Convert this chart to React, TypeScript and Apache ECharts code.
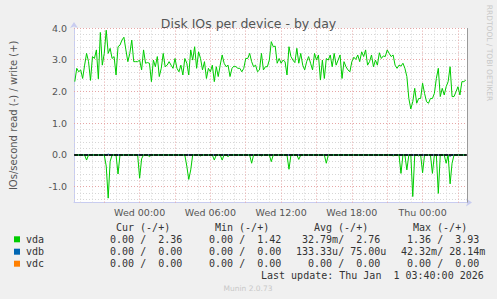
import React, { useEffect, useRef } from "react";
import * as echarts from "echarts";

// ---------- texts ----------
const TITLE = "Disk IOs per device - by day";
const Y_NAME = "IOs/second read (-) / write (+)";
const SIDE_TEXT = "RRDTOOL / TOBI OETIKER";
const LAST_UPDATE = "Last update: Thu Jan  1 03:40:00 2026";
const VERSION = "Munin 2.0.73";

// ---------- axes (x in minutes relative to Wed 00:00) ----------
const X_MIN = -334;
const X_MAX = 1666;
const xTickValues = [0, 360, 720, 1080, 1440];
const xTickLabels = ["Wed 00:00", "Wed 06:00", "Wed 12:00", "Wed 18:00", "Thu 00:00"];
const Y_MIN = -1.5;
const Y_MAX = 4;

// ---------- samples: every 10 minutes starting at Tue 18:30 ----------
const SAMPLE_START = -330;
const SAMPLE_STEP = 10;

const devices = ["vda", "vdb", "vdc"];
const deviceColors = ["#00cc00", "#0066b3", "#ff8000"];

// vda write (+), IOs/s
const vdaWrite = [
  2.31, 2.73, 2.62, 2.68, 2.41, 2.83, 3.2, 2.94, 2.35, 3.1,
  3.04, 3.31, 2.4, 3.86, 2.83, 3.2, 3.93, 3.2, 3.36, 3.04,
  3.1, 2.52, 3.41, 3.46, 3.62, 3.71, 3.31, 2.94, 3.2, 3.62,
  2.94, 2.94, 2.94, 2.99, 2.68, 3.31, 2.89, 2.91, 2.89, 2.31,
  2.99, 2.78, 3.1, 2.47, 2.73, 3.2, 2.78, 2.83, 2.94, 2.83,
  2.73, 3.04, 2.73, 2.62, 2.83, 2.52, 3.04, 2.89, 2.52, 3.31,
  2.99, 3.41, 2.73, 3.25, 3.04, 2.68, 2.94, 2.41, 2.73, 2.62,
  2.83, 2.31, 2.78, 2.47, 2.83, 3.15, 2.89, 2.78, 2.83, 2.47,
  2.73, 2.8, 2.78, 2.73, 2.73, 2.62, 2.73, 3.04, 3.04, 3.2,
  2.94, 2.78, 2.83, 2.62, 2.68, 3.2, 2.68, 2.78, 2.78, 2.99,
  3.57, 3.41, 3.43, 2.89, 3.04, 2.89, 2.99, 2.94, 2.52, 3.41,
  3.1, 2.99, 2.91, 3.36, 2.89, 3.2, 2.83, 2.68, 2.94, 3.1,
  2.89, 2.68, 3.2, 2.99, 3.15, 2.36, 2.99, 2.41, 3.04, 2.99,
  3.15, 2.78, 3.2, 2.83, 2.99, 3.15, 2.41, 2.94, 2.78, 2.68,
  2.62, 2.94, 3.08, 3.01, 3.15, 2.94, 3.25, 3.1, 3.31, 2.83,
  2.94, 3.15, 2.78, 2.99, 2.83, 3.22, 3.04, 3.12, 3.1, 3.31,
  3.2, 3.1, 3.15, 2.83, 2.73, 2.83, 2.8, 2.89, 2.73, 2.47,
  1.78, 1.45, 1.68, 2.1, 1.63, 1.78, 1.78, 2.26, 1.94, 1.68,
  1.63, 1.78, 1.78, 1.94, 2.41, 2.73, 1.84, 2.1, 1.89, 2.15,
  2.31, 2.78, 1.84, 1.84, 1.99, 2.15, 1.89, 2.31, 2.31, 2.36,
];

// non-zero read (-) / write (+) readings as [sample index, IOs/s]; all others read 0.00
const vdaReadSpikes = [
  [6, 0.16], [16, 0.35], [17, 1.36], [18, 0.2], [22, 0.6], [33, 0.73], [34, 0.12],
  [38, 0.05], [57, 0.35], [58, 0.77], [59, 0.47], [64, 0.03], [71, 0.16], [75, 0.16],
  [78, 0.05], [90, 0.26], [95, 0.03], [100, 0.21], [109, 0.45], [114, 0.14],
  [128, 0.26], [162, 0.03], [166, 0.58], [169, 0.47], [172, 1.31], [175, 0.03],
  [177, 0.56], [182, 0.58], [185, 1.21], [189, 0.26], [191, 0.91], [192, 0.26],
];
const vdbReadSpikes = [[191, 0.042]];
const vdbWriteSpikes = [[17, 0.028]];
const vdcReadSpikes: number[][] = [];
const vdcWriteSpikes: number[][] = [];

// ---------- legend statistics ----------
const statHeaders = ["Cur (-/+)", "Min (-/+)", "Avg (-/+)", "Max (-/+)"];
const statCur = ["  0.00 /  2.36 ", "  0.00 /  0.00 ", "  0.00 /  0.00 "];
const statMin = ["  0.00 /  1.42 ", "  0.00 /  0.00 ", "  0.00 /  0.00 "];
const statAvg = [" 32.79m/  2.76 ", "133.33u/ 75.00u", "  0.00 /  0.00 "];
const statMax = ["  1.36 /  3.93 ", " 42.32m/ 28.14m", "  0.00 /  0.00 "];

const N = vdaWrite.length;
const sampleX = (k: number) => SAMPLE_START + SAMPLE_STEP * k;
const expand = (spikes: number[][]) => {
  const a: number[] = new Array(N).fill(0);
  spikes.forEach(([k, v]) => (a[k] = v));
  return a;
};

const MONO = '10px "DejaVu Sans Mono"';
const nb = (s: string) => s.replace(/ /g, "\u00a0");

export default function App() {
  const ref = useRef<HTMLDivElement>(null);
  useEffect(() => {
    document.body.style.margin = "0";
    const chart = echarts.init(ref.current!, null, { renderer: "svg" });

    const minorV: any[] = [];
    const majorV: any[] = [];
    for (let t = -300; t <= 1620; t += 60) {
      if (t % 180 === 0) majorV.push({ xAxis: t });
      else minorV.push({ xAxis: t });
    }
    const minorH: any[] = [];
    const majorH: any[] = [];
    for (let i = -7; i <= 19; i++) {
      const v = Math.round(i * 0.2 * 10) / 10;
      if (i % 5 === 0) {
        if (v !== 0) majorH.push({ yAxis: v });
      } else minorH.push({ yAxis: v });
    }
    majorH.push({ yAxis: 4 });

    const markBase = {
      silent: true,
      symbol: "none",
      label: { show: false },
      animation: false,
    };

    const lineSeries = (name: string, color: string, values: number[], sign: number, z: number) => ({
      name,
      type: "line",
      data: values.map((v, k) => [sampleX(k), sign * v]),
      showSymbol: false,
      symbol: "none",
      lineStyle: { color, width: 1 },
      itemStyle: { color },
      z,
      silent: true,
    });

    const readWrite = [
      [expand(vdaReadSpikes), vdaWrite],
      [expand(vdbReadSpikes), expand(vdbWriteSpikes)],
      [expand(vdcReadSpikes), expand(vdcWriteSpikes)],
    ];
    const dataSeries: any[] = [];
    const seriesZ = [7, 6, 5];
    devices.forEach((d, i) => {
      dataSeries.push(lineSeries(d + " read", deviceColors[i], readWrite[i][0], -1, seriesZ[i]));
      dataSeries.push(lineSeries(d + " write", deviceColors[i], readWrite[i][1], 1, seriesZ[i]));
    });

    const cellX = [98, 197, 296, 395];
    const rowY = [239.3, 251.7, 263.7];
    const graphics: any[] = [];
    statHeaders.forEach((h, c) => {
      graphics.push({
        type: "text",
        x: cellX[c] + 18,
        y: 227.7,
        style: { text: h, font: MONO, fill: "#333", textAlign: "left", textVerticalAlign: "middle" },
      });
    });
    const cols = [statCur, statMin, statAvg, statMax];
    devices.forEach((d, r) => {
      graphics.push({
        type: "rect",
        shape: { x: 14, y: rowY[r] - 3, width: 6, height: 6 },
        style: { fill: deviceColors[r] },
      });
      graphics.push({
        type: "text",
        x: 26,
        y: rowY[r],
        style: { text: d, font: MONO, fill: "#333", textAlign: "left", textVerticalAlign: "middle" },
      });
      cols.forEach((col, c) => {
        graphics.push({
          type: "text",
          x: cellX[c],
          y: rowY[r],
          style: { text: nb(col[r]), font: MONO, fill: "#333", textAlign: "left", textVerticalAlign: "middle" },
        });
      });
    });
    graphics.push({
      type: "text",
      x: 261,
      y: 275.7,
      style: { text: nb(LAST_UPDATE), font: MONO, fill: "#333", textAlign: "left", textVerticalAlign: "middle" },
    });
    graphics.push({
      type: "text",
      x: 248,
      y: 288.3,
      style: { text: VERSION, font: '7.5px "DejaVu Sans"', fill: "#c8c8c8", textAlign: "center", textVerticalAlign: "middle" },
    });
    graphics.push({
      type: "text",
      x: 489,
      y: 53,
      rotation: -Math.PI / 2,
      style: { text: SIDE_TEXT, font: '7.5px "DejaVu Sans"', fill: "#c8c8c8", textAlign: "center", textVerticalAlign: "middle" },
    });

    const option: any = {
      animation: false,
      backgroundColor: "#f0f0f0",
      title: {
        text: TITLE,
        left: "center",
        top: 12,
        textStyle: { fontSize: 12.5, color: "#555", fontWeight: "normal", fontFamily: "DejaVu Sans" },
      },
      grid: {
        left: 67,
        top: 28,
        width: 400,
        height: 174.6,
        show: true,
        backgroundColor: "#ffffff",
        borderWidth: 0,
      },
      xAxis: {
        type: "value",
        min: X_MIN,
        max: X_MAX,
        splitLine: { show: false },
        axisTick: { show: false },
        axisLine: {
          show: true,
          onZero: false,
          lineStyle: { color: "#c8ccf0", width: 1 },
          symbol: ["none", "arrow"],
          symbolSize: [6, 6],
          symbolOffset: [0, 5],
        },
        axisLabel: {
          customValues: xTickValues,
          formatter: (v: number) => xTickLabels[xTickValues.indexOf(v)] ?? "",
          color: "#555",
          fontSize: 9.5,
          fontFamily: "DejaVu Sans",
          margin: 5,
        },
      },
      yAxis: {
        type: "value",
        min: Y_MIN,
        max: Y_MAX,
        interval: 0.5,
        name: Y_NAME,
        nameLocation: "middle",
        nameRotate: 90,
        nameGap: 56,
        nameTextStyle: { color: "#555", fontSize: 10, fontFamily: "DejaVu Sans" },
        splitLine: { show: false },
        axisTick: { show: false },
        axisLine: {
          show: true,
          onZero: false,
          lineStyle: { color: "#c8ccf0", width: 1 },
          symbol: ["none", "arrow"],
          symbolSize: [6, 6],
          symbolOffset: [0, 6],
        },
        axisLabel: {
          formatter: (v: number) => (Math.abs(v - Math.round(v)) < 1e-9 ? v.toFixed(1) : ""),
          color: "#555",
          fontSize: 9.5,
          fontFamily: "DejaVu Sans",
          margin: 7,
        },
      },
      graphic: graphics,
      series: [
        {
          name: "grid-minor",
          type: "line",
          data: [],
          z: 1,
          markLine: {
            ...markBase,
            z: 1,
            lineStyle: { color: "#d6d6d6", type: [1, 2], width: 1 },
            data: [...minorV, ...minorH],
          },
        },
        {
          name: "grid-major",
          type: "line",
          data: [],
          z: 2,
          markLine: {
            ...markBase,
            z: 2,
            lineStyle: { color: "#e6a6a6", type: [1, 2], width: 1 },
            data: [...majorV, ...majorH],
          },
        },
        ...dataSeries,
        {
          name: "frame",
          type: "line",
          data: [],
          z: 20,
          markLine: {
            ...markBase,
            z: 20,
            data: [
              { yAxis: 0, lineStyle: { color: "#000", type: [4, 1], width: 1.5 } },
              { xAxis: X_MAX, lineStyle: { color: "#999", type: "solid", width: 1 } },
            ],
          },
        },
      ],
    };
    chart.setOption(option);
    return () => chart.dispose();
  }, []);
  return <div ref={ref} style={{ width: 497, height: 299, background: "#f0f0f0" }} />;
}
